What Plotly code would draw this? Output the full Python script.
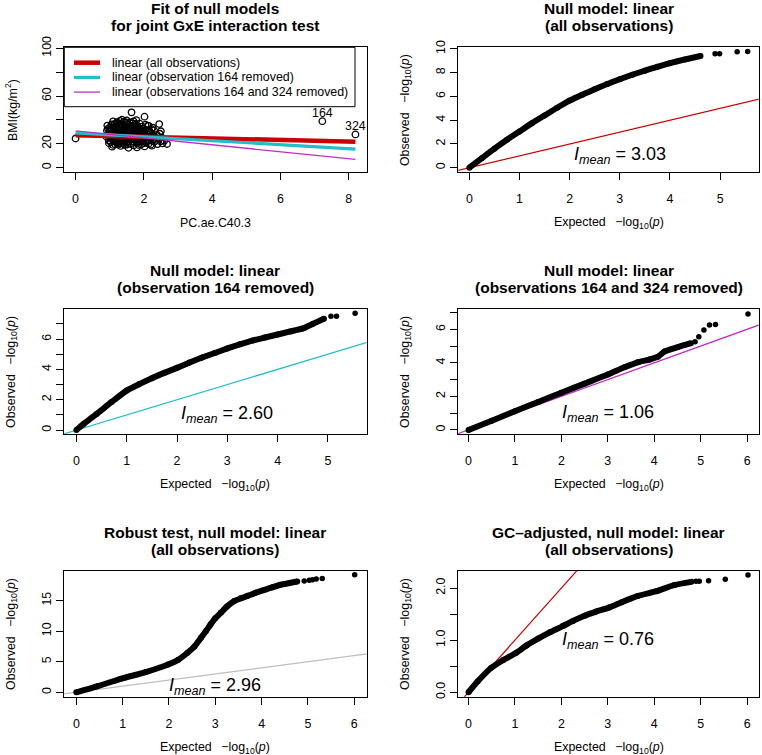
import plotly.graph_objects as go

W, H = 762, 755
FONT = "Liberation Sans, Arial, Helvetica, sans-serif"

# ---------------- Panel 1 data: BMI vs PC.ae.C40.3 ----------------
pc_ae = [0.00, 7.23, 8.20,
         1.07, 1.32, 1.55, 1.80, 2.02, 2.24, 1.44,
         1.16, 1.62, 1.92, 2.14, 2.40, 2.68, 0.98, 1.28, 2.55,
         1.03, 1.20, 1.37, 1.53, 1.71, 1.86, 2.06, 2.31, 2.49, 1.45,
         0.97, 1.11, 1.29, 1.61, 1.76, 1.96, 2.13, 2.36, 2.60,
         1.02, 1.18, 1.34, 1.49, 1.66, 1.81, 1.99, 2.21, 2.44, 2.52,
         1.07, 1.23, 1.39, 1.56, 1.69, 1.89, 2.08, 2.29,
         0.96, 1.13, 1.27, 1.43, 1.59, 1.74, 1.94, 2.11, 2.38, 2.47,
         1.04, 1.20, 1.35, 1.51, 1.66, 1.83, 2.01, 2.19,
         0.99, 1.15, 1.31, 1.47, 1.61, 1.78, 1.95, 2.16, 2.50,
         1.06, 1.25, 1.41, 1.56, 1.73, 1.90, 2.06, 2.23,
         1.01, 1.17, 1.34, 1.50, 1.68, 1.85, 2.26,
         1.09, 1.27, 1.45, 1.63, 1.81, 2.12,
         1.13, 1.31, 1.52, 1.76, 2.45, 2.14,
         1.21, 1.42, 1.60, 1.36, 1.78, 1.64, 2.02, 0.90, 0.92,
         1.10, 1.25, 1.40, 1.52, 1.70, 1.85, 2.00, 2.20,
         1.15, 1.32, 1.48, 1.65, 1.80, 1.95, 2.10, 2.25,
         1.08, 1.20, 1.38, 1.55, 1.72, 1.88, 2.03, 2.18, 2.35,
         1.12, 1.28, 1.45, 1.62, 1.78, 1.92, 2.08, 2.26,
         1.04, 1.18, 1.36, 1.52, 1.68, 1.84, 2.00, 2.15,
         0.95, 1.12, 1.26, 1.40, 1.58, 1.72, 1.95, 2.30,
         0.93, 1.05, 1.22, 1.48, 1.66, 1.88, 2.05,
         1.30, 1.50, 1.70, 1.10,
         1.22, 1.35, 1.47, 1.58, 1.74, 1.86, 1.98, 1.14,
         1.29, 1.43, 1.57, 1.69, 1.82, 1.97, 1.19, 1.33,
         1.46, 1.63, 1.77, 1.91]
bmi = [24.4, 38.9, 27.8,
       17.6, 18.2, 16.6, 16.9, 17.8, 18.4, 18.9,
       19.6, 19.9, 19.4, 20.1, 19.7, 19.8, 20.4, 20.6, 20.3,
       21.2, 21.5, 21.0, 21.7, 21.3, 21.8, 21.1, 21.6, 22.0, 22.3,
       22.8, 23.1, 22.6, 23.3, 22.7, 23.4, 22.9, 23.2, 22.6,
       24.3, 24.8, 24.1, 24.6, 24.2, 24.9, 24.4, 24.7, 24.2, 25.3,
       25.8, 26.2, 25.6, 26.4, 25.9, 26.3, 25.7, 26.1,
       27.3, 27.6, 27.1, 27.8, 27.2, 27.7, 27.4, 27.9, 27.5, 28.4,
       28.7, 29.2, 28.9, 29.4, 28.6, 29.1, 28.8, 29.3,
       30.2, 30.7, 30.1, 30.8, 30.4, 30.9, 30.3, 30.6, 30.5,
       31.8, 32.3, 31.6, 32.1, 31.9, 32.4, 31.7, 32.2,
       33.4, 33.1, 33.8, 33.3, 33.9, 33.2, 33.6,
       34.8, 35.3, 34.6, 35.1, 34.9, 35.2,
       36.4, 36.9, 36.2, 36.6, 36.5, 35.0,
       38.1, 38.6, 37.9, 40.2, 39.8, 46.3, 42.7, 26.0, 31.0,
       19.0, 19.2, 20.0, 19.3, 18.6, 19.0, 20.4, 19.2,
       22.0, 21.8, 20.8, 22.2, 20.6, 22.0, 23.8, 22.4,
       26.8, 23.7, 23.4, 25.0, 23.8, 25.4, 26.6, 25.2, 24.9,
       28.2, 28.4, 29.0, 27.9, 28.3, 29.8, 28.0, 27.2,
       31.2, 31.9, 31.0, 31.3, 32.6, 31.5, 32.8, 31.1,
       32.6, 34.0, 34.1, 35.4, 34.2, 35.8, 34.4, 31.2,
       35.2, 36.2, 37.2, 37.6, 37.1, 36.8, 36.0,
       39.2, 39.5, 38.8, 38.8,
       20.1, 23.0, 25.1, 27.5, 26.9, 23.6, 30.9, 29.6,
       30.4, 32.8, 29.9, 29.2, 33.0, 26.9, 34.7, 36.0,
       27.1, 34.6, 32.9, 28.4]
labelled_idx = [1, 2]
labelled_names = ["164", "324"]

fit_labels = ["linear (all observations)",
              "linear (observation 164 removed)",
              "linear (observations 164 and 324 removed)"]
fit_intercepts = [27.2, 29.2, 30.8]
fit_slopes = [-0.67, -1.66, -2.91]
fit_colors = ["#CC0000", "#22BFC8", "#C42BC8"]
fit_widths = [4.5, 3.2, 1.3]

# ---------------- QQ panels data ----------------
qq_titles = [("Null model: linear", "(all observations)"),
             ("Null model: linear", "(observation 164 removed)"),
             ("Null model: linear", "(observations 164 and 324 removed)"),
             ("Robust test, null model: linear", "(all observations)"),
             ("GC\u2013adjusted, null model: linear", "(all observations)")]
lambda_mean = ["3.03", "2.60", "1.06", "2.96", "0.76"]
ref_colors = ["#CC0000", "#22BFC8", "#C42BC8", "#BEBEBE", "#CC0000"]

exp1 = [0, 0.25, 0.5, 0.75, 1.0, 1.25, 1.5, 1.75, 2.0, 2.25, 2.5, 2.75, 3.0, 3.25, 3.5, 3.75, 4.0, 4.3, 4.61]
obs1 = [0, 0.8, 1.6, 2.35, 3.05, 3.75, 4.4, 5.05, 5.65, 6.15, 6.6, 7.05, 7.45, 7.83, 8.17, 8.5, 8.8, 9.12, 9.41]
exp1_tail = [4.90, 4.99, 5.34, 5.55]
obs1_tail = [9.60, 9.60, 9.77, 9.78]

exp2 = [0, 0.15, 0.4, 0.7, 1.0, 1.25, 1.5, 1.75, 2.0, 2.25, 2.5, 2.75, 3.0, 3.25, 3.5, 3.75, 4.0, 4.25, 4.5, 4.7, 4.92]
obs2 = [0, 0.42, 1.05, 1.85, 2.6, 3.03, 3.42, 3.77, 4.1, 4.45, 4.78, 5.08, 5.38, 5.65, 5.9, 6.1, 6.3, 6.5, 6.7, 7.0, 7.34]
exp2_tail = [5.06, 5.17, 5.54]
obs2_tail = [7.50, 7.50, 7.70]

exp3 = [0, 0.5, 1.0, 1.5, 2.0, 2.5, 3.0, 3.37, 3.66, 3.9, 4.08, 4.22, 4.5, 4.79]
obs3 = [0, 0.55, 1.12, 1.67, 2.22, 2.76, 3.3, 3.75, 4.05, 4.2, 4.37, 4.67, 4.93, 5.17]
exp3_tail = [4.88, 4.96, 5.07, 5.19, 5.32, 6.02]
obs3_tail = [5.26, 5.56, 5.96, 6.26, 6.28, 6.91]

exp4 = [0, 0.45, 0.96, 1.5, 1.98, 2.2, 2.4, 2.55, 2.69, 2.8, 2.9, 3.0, 3.12, 3.25, 3.41, 3.55, 3.7, 3.87, 4.05, 4.23, 4.41, 4.6, 4.77]
obs4 = [0, 0.98, 2.2, 3.3, 4.53, 5.3, 6.45, 7.5, 8.9, 10.0, 11.1, 12.1, 13.0, 14.0, 14.9, 15.35, 15.76, 16.25, 16.7, 17.15, 17.57, 17.85, 18.1]
exp4_tail = [4.92, 5.03, 5.10, 5.18, 5.31, 6.01]
obs4_tail = [18.2, 18.3, 18.4, 18.5, 18.6, 19.2]

exp5 = [0, 0.2, 0.49, 0.75, 1.03, 1.25, 1.5, 1.75, 2.03, 2.25, 2.5, 2.75, 3.04, 3.3, 3.65, 4.05, 4.44, 4.8]
obs5 = [0, 0.21, 0.47, 0.62, 0.76, 0.9, 1.03, 1.15, 1.27, 1.37, 1.47, 1.55, 1.63, 1.73, 1.85, 1.94, 2.06, 2.12]
exp5_tail = [4.90, 4.97, 5.17, 5.53, 6.02]
obs5_tail = [2.13, 2.13, 2.14, 2.17, 2.25]

qq_dense = [(exp1, obs1), (exp2, obs2), (exp3, obs3), (exp4, obs4), (exp5, obs5)]
qq_tail = [(exp1_tail, obs1_tail), (exp2_tail, obs2_tail), (exp3_tail, obs3_tail),
           (exp4_tail, obs4_tail), (exp5_tail, obs5_tail)]

# ---------------- layout geometry (pixels) ----------------
boxes = [(64.3, 47.3, 366.7, 172.3), (458.3, 47.3, 758.7, 172.3),
         (64.3, 309.0, 366.7, 434.3), (458.3, 309.0, 758.7, 434.3),
         (64.3, 570.7, 366.7, 696.7), (458.3, 570.7, 758.7, 696.7)]
xranges = [[-0.33, 8.53], [-0.22, 5.77], [-0.24, 5.77], [-0.22, 6.25], [-0.26, 6.27], [-0.22, 6.25]]
yranges = [[-3.9, 100.8], [-0.39, 10.14], [-0.28, 7.98], [-0.26, 7.21], [-0.72, 19.87], [-0.085, 2.334]]
xticks = [[0, 2, 4, 6, 8], list(range(6)), list(range(6)), list(range(7)), list(range(7)), list(range(7))]
yticks = [[0, 20, 60, 100], list(range(0, 11, 2)), [0, 2, 4, 6], [0, 2, 4, 6],
          [0, 5, 10, 15], [0, 1, 2]]
ytext = [["0", "20", "60", "100"], [str(v) for v in range(0, 11, 2)],
         ["0", "2", "4", "6"], ["0", "2", "4", "6"],
         ["0", "5", "10", "15"], ["0.0", "1.0", "2.0"]]
yminor = [[40, 80], [], [1, 3, 5, 7], [1, 3, 5, 7], [], [0.5, 1.5]]


def px(x):
    return x / W


def py(y):
    return 1 - y / H


fig = go.Figure()
layout = dict(width=W, height=H, autosize=False,
              margin=dict(l=0, r=0, t=0, b=0, pad=0, autoexpand=False),
              paper_bgcolor="white", plot_bgcolor="white", showlegend=False,
              font=dict(family=FONT, size=12.4, color="black"))
annotations = []
shapes = []

for i, (x0, y0, x1, y1) in enumerate(boxes):
    k = "" if i == 0 else str(i + 1)
    kl = str(i + 7)
    # main x axis: box line + short tick marks, no labels
    layout["xaxis" + k] = dict(domain=[px(x0), px(x1)], anchor="y" + k, range=xranges[i],
                               showgrid=False, zeroline=False, showline=True, mirror=True,
                               linecolor="black", linewidth=1, ticks="outside", ticklen=7,
                               tickcolor="black", tickwidth=1, tickvals=xticks[i],
                               showticklabels=False, automargin=False)
    # overlay x axis carrying the tick labels (R places them further from the box)
    layout["xaxis" + kl] = dict(domain=[px(x0), px(x1)], anchor="y" + k,
                                overlaying="x" + k, range=xranges[i],
                                showgrid=False, zeroline=False, showline=False,
                                ticks="outside", ticklen=15,
                                tickcolor="rgba(0,0,0,0)", tickvals=xticks[i],
                                ticktext=[str(v) for v in xticks[i]],
                                tickfont=dict(size=12.4), automargin=False)
    # empty trace so the label axis is instantiated
    fig.add_trace(go.Scatter(x=[], y=[], xaxis="x" + kl, yaxis="y" + k, mode="markers",
                             hoverinfo="skip"))
    ya = dict(domain=[py(y1), py(y0)], anchor="x" + k, range=yranges[i],
              showgrid=False, zeroline=False, showline=True, mirror=True,
              linecolor="black", linewidth=1, ticks="outside", ticklen=7,
              tickcolor="black", tickwidth=1, tickvals=yticks[i],
              ticktext=ytext[i], tickangle=-90,
              tickfont=dict(size=12.4), automargin=False)
    if yminor[i]:
        ya["minor"] = dict(tickvals=yminor[i], ticks="outside", ticklen=7,
                           tickcolor="black", tickwidth=1, showgrid=False)
    layout["yaxis" + k] = ya
    cx = (x0 + x1) / 2
    # axis titles
    if i == 0:
        xt = "PC.ae.C40.3"
        yt = "BMI(kg/m<sup>2</sup>)"
    else:
        xt = "Expected \u2002\u2212log<sub>10</sub>(<i>p</i>)"
        yt = "Observed \u2002\u2212log<sub>10</sub>(<i>p</i>)"
    annotations.append(dict(x=px(cx), y=py(y1 + 51), xref="paper", yref="paper", text=xt,
                            showarrow=False, xanchor="center", yanchor="middle",
                            font=dict(size=12.4)))
    annotations.append(dict(x=px(x0 - 53), y=py((y0 + y1) / 2), xref="paper", yref="paper",
                            text=yt, textangle=-90, showarrow=False, xanchor="center",
                            yanchor="middle", font=dict(size=12.4)))
    # titles
    if i == 0:
        t1, t2 = "Fit of null models", "for joint GxE interaction test"
    else:
        t1, t2 = qq_titles[i - 1]
    for t, off in ((t1, 38.5), (t2, 21.5)):
        annotations.append(dict(x=px(cx), y=py(y0 - off), xref="paper", yref="paper",
                                text="<b>" + t + "</b>", showarrow=False, xanchor="center",
                                yanchor="middle", font=dict(size=15.5)))

# ---- Panel 1 traces ----
fig.add_trace(go.Scatter(x=pc_ae, y=bmi, mode="markers", xaxis="x", yaxis="y",
                         marker=dict(symbol="circle-open", size=6.5, color="black",
                                     line=dict(width=1.3, color="black"))))
xmin, xmax = min(pc_ae), max(pc_ae)
for a, b, c, w in zip(fit_intercepts, fit_slopes, fit_colors, fit_widths):
    fig.add_trace(go.Scatter(x=[xmin, xmax], y=[a + b * xmin, a + b * xmax], mode="lines",
                             xaxis="x", yaxis="y", line=dict(color=c, width=w)))
for idx, name in zip(labelled_idx, labelled_names):
    annotations.append(dict(x=pc_ae[idx], y=bmi[idx], xref="x", yref="y", text=name,
                            showarrow=False, yshift=8, font=dict(size=12.4)))

# manual legend for panel 1
bx0, by0, bx1, by1 = boxes[0]
shapes.append(dict(type="rect", xref="paper", yref="paper", x0=px(bx0), x1=px(355),
                   y0=py(106.7), y1=py(by0), line=dict(color="black", width=1),
                   fillcolor="white", layer="above"))
for j, (lab, c, w) in enumerate(zip(fit_labels, fit_colors, fit_widths)):
    ry = 62.7 + j * 14.7
    shapes.append(dict(type="line", xref="paper", yref="paper", x0=px(74), x1=px(100),
                       y0=py(ry), y1=py(ry), line=dict(color=c, width=w), layer="above"))
    annotations.append(dict(x=px(110), y=py(ry), xref="paper", yref="paper", text=lab,
                            showarrow=False, xanchor="left", yanchor="middle",
                            font=dict(size=12.4)))

# ---- QQ panels ----
for p in range(5):
    k = str(p + 2)
    fig.add_trace(go.Scatter(x=[-1, 30], y=[-1, 30], mode="lines", xaxis="x" + k, yaxis="y" + k,
                             line=dict(color=ref_colors[p], width=1.2)))
    ex, ob = qq_dense[p]
    fig.add_trace(go.Scatter(x=ex, y=ob, mode="lines+markers", xaxis="x" + k, yaxis="y" + k,
                             line=dict(color="black", width=6, shape="spline", smoothing=0.6),
                             marker=dict(size=6, color="black")))
    et, ot = qq_tail[p]
    fig.add_trace(go.Scatter(x=et, y=ot, mode="markers", xaxis="x" + k, yaxis="y" + k,
                             marker=dict(size=5.5, color="black")))
    annotations.append(dict(x=3, y=1, xref="x" + k, yref="y" + k,
                            text="<i>I</i><sub><i>mean</i></sub> = " + lambda_mean[p],
                            showarrow=False, xanchor="center", yanchor="middle",
                            font=dict(size=18)))

layout["annotations"] = annotations
layout["shapes"] = shapes
fig.update_layout(**layout)
fig.write_html("out.html", config={"displayModeBar": False},
               post_script="document.body.style.margin='0';")
